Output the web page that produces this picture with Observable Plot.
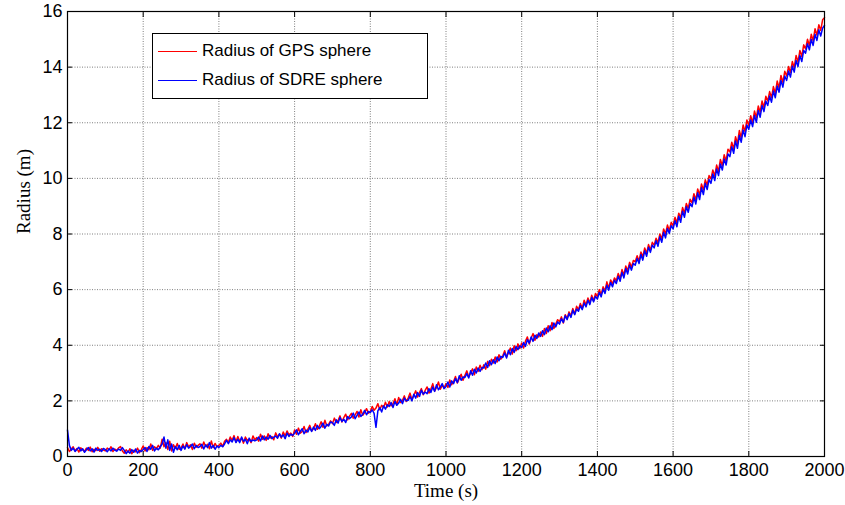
<!DOCTYPE html>
<html>
<head>
<meta charset="utf-8">
<script src="https://cdn.jsdelivr.net/npm/d3@7"></script>
<script src="https://cdn.jsdelivr.net/npm/@observablehq/plot@0.6"></script>
<style>
  html, body { margin: 0; padding: 0; background: #fff; }
  #wrap { position: relative; width: 845px; height: 505px; }
  #legend {
    position: absolute; left: 152px; top: 33px; width: 276px; height: 66px;
    border: 1px solid #000; background: #fff; box-sizing: border-box;
    font-family: "Liberation Sans", Arial, sans-serif; font-size: 17px; color: #000;
  }
  .row { position: absolute; left: 5px; height: 20px; display: flex; align-items: center; }
  .sw { width: 39px; height: 0; border-top: 1px solid; margin-right: 5px; }
</style>
</head>
<body>
<div id="wrap">
  <div id="chart"></div>
  <div id="legend"></div>
</div>
<script>
const timeStep = 5; // seconds between samples
const seriesNames = ["Radius of GPS sphere", "Radius of SDRE sphere"];
const seriesColors = ["#ff0000", "#0000ff"];
const xTicks = [0, 200, 400, 600, 800, 1000, 1200, 1400, 1600, 1800, 2000];
const yTicks = [0, 2, 4, 6, 8, 10, 12, 14, 16];

const gpsRadius = [
  0.32, 0.18, 0.27, 0.35, 0.2, 0.29, 0.16, 0.31, 0.24, 0.19,
  0.3, 0.22, 0.34, 0.17, 0.26, 0.21, 0.33, 0.19, 0.28, 0.23,
  0.2, 0.3, 0.24, 0.35, 0.18, 0.27, 0.22, 0.31, 0.36, 0.2,
  0.12, 0.24, 0.15, 0.28, 0.1, 0.22, 0.17, 0.3, 0.14, 0.25,
  0.38, 0.2, 0.32, 0.24, 0.45, 0.22, 0.35, 0.28, 0.4, 0.3,
  0.62, 0.35, 0.5, 0.25, 0.55, 0.2, 0.42, 0.3, 0.47, 0.26,
  0.3, 0.45, 0.28, 0.5, 0.34, 0.42, 0.25, 0.48, 0.33, 0.4,
  0.46, 0.3, 0.52, 0.36, 0.44, 0.28, 0.56, 0.32, 0.47, 0.35,
  0.4, 0.48, 0.36, 0.55, 0.62, 0.5, 0.7, 0.58, 0.75, 0.52,
  0.72, 0.55, 0.66, 0.48, 0.7, 0.58, 0.62, 0.5, 0.74, 0.6,
  0.68, 0.55, 0.8, 0.62, 0.74, 0.58, 0.82, 0.66, 0.72, 0.6,
  0.85, 0.7, 0.8, 0.66, 0.88, 0.74, 0.92, 0.78, 0.84, 0.72,
  0.95, 0.8, 1.02, 0.84, 0.9, 1.08, 0.86, 0.98, 1.12, 0.92,
  1.0, 1.18, 0.98, 1.08, 1.25, 1.05, 1.3, 1.1, 1.16, 1.28,
  1.18, 1.38, 1.22, 1.3, 1.46, 1.24, 1.4, 1.52, 1.32, 1.45,
  1.55, 1.38, 1.5, 1.62, 1.42, 1.68, 1.48, 1.58, 1.72, 1.56,
  1.62, 1.8, 1.66, 1.74, 1.9, 1.68, 1.84, 1.76, 1.95, 1.78,
  1.98, 1.82, 1.9, 2.08, 1.86, 2.12, 1.94, 2.02, 2.18, 1.98,
  2.1, 2.28, 2.04, 2.2, 2.36, 2.14, 2.3, 2.44, 2.22, 2.38,
  2.5, 2.28, 2.42, 2.62, 2.35, 2.48, 2.68, 2.42, 2.56, 2.46,
  2.62, 2.48, 2.75, 2.58, 2.7, 2.88, 2.64, 2.8, 2.96, 2.74,
  2.92, 3.08, 2.86, 3.0, 3.15, 2.94, 3.22, 3.06, 3.28, 3.12,
  3.3, 3.14, 3.42, 3.26, 3.5, 3.36, 3.58, 3.4, 3.66, 3.5,
  3.62, 3.8, 3.58, 3.72, 3.9, 3.68, 3.98, 3.8, 4.05, 3.88,
  4.08, 3.9, 4.15, 4.3, 4.04, 4.26, 4.42, 4.18, 4.38, 4.3,
  4.48, 4.32, 4.6, 4.42, 4.7, 4.52, 4.82, 4.6, 4.76, 4.92,
  4.85, 5.02, 4.8, 5.1, 4.96, 5.2, 5.05, 5.32, 5.12, 5.4,
  5.28, 5.5, 5.32, 5.62, 5.45, 5.7, 5.52, 5.8, 5.6, 5.86,
  5.75, 6.0, 5.82, 6.1, 5.95, 6.28, 6.05, 6.35, 6.2, 6.42,
  6.32, 6.58, 6.4, 6.72, 6.52, 6.85, 6.68, 6.98, 6.8, 7.05,
  7.0, 7.22, 7.02, 7.35, 7.18, 7.5, 7.3, 7.62, 7.42, 7.7,
  7.6, 7.85, 7.68, 8.0, 7.82, 8.18, 8.0, 8.32, 8.12, 8.42,
  8.3, 8.6, 8.4, 8.75, 8.58, 8.95, 8.75, 9.1, 8.92, 9.25,
  9.12, 9.45, 9.22, 9.62, 9.4, 9.8, 9.58, 9.95, 9.75, 10.1,
  9.98, 10.3, 10.08, 10.48, 10.25, 10.68, 10.45, 10.85, 10.62, 11.05,
  10.95, 11.3, 11.05, 11.5, 11.25, 11.72, 11.45, 11.92, 11.68, 12.1,
  11.9, 12.25, 12.0, 12.42, 12.18, 12.6, 12.38, 12.78, 12.55, 12.95,
  12.78, 13.12, 12.9, 13.3, 13.05, 13.5, 13.25, 13.7, 13.45, 13.85,
  13.68, 14.02, 13.8, 14.2, 13.98, 14.42, 14.18, 14.6, 14.38, 14.8,
  14.65, 15.0, 14.78, 15.18, 14.95, 15.38, 15.15, 15.52, 15.32, 15.7,
  15.78
];

const sdreRadius = [
  0.95, 0.4, 0.22, 0.3, 0.18, 0.26, 0.33, 0.2, 0.28, 0.15,
  0.24, 0.32, 0.2, 0.28, 0.16, 0.3, 0.22, 0.26, 0.18, 0.29,
  0.25, 0.17, 0.28, 0.2, 0.3, 0.23, 0.19, 0.27, 0.22, 0.32,
  0.22, 0.1, 0.2, 0.12, 0.25, 0.15, 0.27, 0.12, 0.22, 0.18,
  0.25, 0.32, 0.18, 0.36, 0.26, 0.4, 0.2, 0.3, 0.24, 0.35,
  0.45, 0.7, 0.3, 0.6, 0.22, 0.45, 0.15, 0.36, 0.24, 0.4,
  0.22, 0.38, 0.27, 0.43, 0.3, 0.36, 0.45, 0.28, 0.4, 0.32,
  0.36, 0.44, 0.27, 0.42, 0.32, 0.5, 0.3, 0.4, 0.26, 0.38,
  0.32, 0.4, 0.35, 0.45, 0.58, 0.46, 0.6, 0.52, 0.68, 0.5,
  0.62, 0.5, 0.7, 0.55, 0.62, 0.46, 0.66, 0.54, 0.6, 0.56,
  0.6, 0.7, 0.56, 0.74, 0.6, 0.7, 0.62, 0.76, 0.64, 0.7,
  0.74, 0.66, 0.82, 0.7, 0.78, 0.64, 0.84, 0.72, 0.8, 0.76,
  0.84, 0.96, 0.78, 0.9, 1.0, 0.82, 0.95, 0.88, 1.04, 0.9,
  1.06, 0.94, 1.12, 1.0, 1.08, 1.2, 1.02, 1.16, 1.1, 1.24,
  1.22, 1.12, 1.32, 1.2, 1.4, 1.26, 1.34, 1.22, 1.44, 1.36,
  1.42, 1.56, 1.36, 1.48, 1.6, 1.44, 1.52, 1.66, 1.5, 1.62,
  1.58, 1.68, 1.55, 1.05, 1.64, 1.76, 1.6, 1.82, 1.7, 1.86,
  1.8, 1.94, 1.76, 1.98, 1.84, 1.92, 2.06, 1.9, 2.1, 2.0,
  2.02, 2.16, 2.0, 2.24, 2.1, 2.3, 2.16, 2.38, 2.24, 2.32,
  2.26, 2.44, 2.3, 2.5, 2.34, 2.58, 2.4, 2.5, 2.62, 2.44,
  2.52, 2.68, 2.5, 2.72, 2.62, 2.8, 2.66, 2.9, 2.74, 2.86,
  2.84, 2.98, 2.82, 3.08, 2.92, 3.14, 3.0, 3.18, 3.06, 3.2,
  3.18, 3.36, 3.2, 3.44, 3.3, 3.48, 3.34, 3.58, 3.44, 3.6,
  3.56, 3.72, 3.54, 3.82, 3.66, 3.88, 3.74, 3.96, 3.84, 3.98,
  3.92, 4.1, 3.96, 4.2, 4.08, 4.3, 4.14, 4.36, 4.24, 4.44,
  4.32, 4.52, 4.38, 4.62, 4.48, 4.7, 4.56, 4.8, 4.66, 4.84,
  4.76, 4.95, 4.82, 5.06, 4.92, 5.14, 5.0, 5.26, 5.1, 5.3,
  5.22, 5.42, 5.28, 5.52, 5.38, 5.62, 5.46, 5.72, 5.56, 5.76,
  5.66, 5.9, 5.74, 6.02, 5.86, 6.16, 5.98, 6.26, 6.1, 6.34,
  6.22, 6.48, 6.3, 6.62, 6.42, 6.76, 6.56, 6.88, 6.7, 6.94,
  6.88, 7.12, 6.94, 7.26, 7.06, 7.4, 7.2, 7.52, 7.34, 7.6,
  7.5, 7.76, 7.56, 7.9, 7.7, 8.06, 7.86, 8.2, 8.02, 8.3,
  8.18, 8.48, 8.26, 8.64, 8.42, 8.82, 8.6, 8.98, 8.78, 9.1,
  8.98, 9.32, 9.08, 9.48, 9.24, 9.66, 9.42, 9.82, 9.6, 9.96,
  9.82, 10.16, 9.92, 10.34, 10.1, 10.52, 10.3, 10.7, 10.48, 10.88,
  10.78, 11.14, 10.9, 11.34, 11.08, 11.54, 11.3, 11.74, 11.5, 11.92,
  11.76, 12.1, 11.86, 12.26, 12.02, 12.44, 12.2, 12.62, 12.4, 12.78,
  12.62, 12.96, 12.74, 13.14, 12.9, 13.32, 13.1, 13.52, 13.28, 13.68,
  13.52, 13.86, 13.64, 14.04, 13.82, 14.24, 14.02, 14.42, 14.2, 14.6,
  14.5, 14.84, 14.62, 15.0, 14.78, 15.18, 14.96, 15.34, 15.12, 15.4,
  15.5
];

const gpsData = gpsRadius.map((r, i) => ({t: i * timeStep, r}));
const sdreData = sdreRadius.map((r, i) => ({t: i * timeStep, r}));

const gridStyle = {stroke: "#7f7f7f", strokeOpacity: 1, strokeWidth: 1, strokeDasharray: "1,1.5"};
const serif = "'Liberation Serif', 'Times New Roman', serif";

const chart = Plot.plot({
  width: 845,
  height: 505,
  marginLeft: 67,
  marginRight: 21,
  marginTop: 11,
  marginBottom: 49,
  style: {fontFamily: "'Liberation Sans', Arial, sans-serif", fontSize: "18px", color: "#000", background: "#fff"},
  x: {domain: [0, 2000]},
  y: {domain: [0, 16]},
  marks: [
    Plot.ruleX(xTicks.slice(1, -1), {...gridStyle}),
    Plot.ruleY(yTicks.slice(1, -1), {...gridStyle}),
    Plot.line(gpsData, {x: "t", y: "r", stroke: seriesColors[0], strokeWidth: 1.5}),
    Plot.line(sdreData, {x: "t", y: "r", stroke: seriesColors[1], strokeWidth: 1.5}),
    Plot.axisX({anchor: "bottom", ticks: xTicks, tickSize: -5, tickPadding: 12, label: null, tickFormat: d => String(d), stroke: "#000", fontSize: 18}),
    Plot.axisX({anchor: "top", ticks: xTicks, tickSize: -5, label: null, tickFormat: () => "", stroke: "#000"}),
    Plot.axisY({anchor: "left", ticks: yTicks, tickSize: -5, tickPadding: 10, label: null, tickFormat: d => String(d), stroke: "#000", fontSize: 18}),
    Plot.axisY({anchor: "right", ticks: yTicks, tickSize: -5, label: null, tickFormat: () => "", stroke: "#000"}),
    Plot.frame({stroke: "#000", strokeWidth: 1.2}),
    Plot.text(["Time (s)"], {frameAnchor: "bottom", dy: 40, fontFamily: serif, fontSize: 19, fill: "#000"}),
    Plot.text(["Radius (m)"], {frameAnchor: "left", dx: -44, rotate: -90, fontFamily: serif, fontSize: 19, fill: "#000"})
  ]
});
document.getElementById("chart").appendChild(chart);

const legend = document.getElementById("legend");
seriesNames.forEach((name, i) => {
  const row = document.createElement("div");
  row.className = "row";
  row.style.top = (i === 0 ? 7 : 36) + "px";
  const sw = document.createElement("div");
  sw.className = "sw";
  sw.style.borderTopColor = seriesColors[i];
  const label = document.createElement("span");
  label.textContent = name;
  row.appendChild(sw);
  row.appendChild(label);
  legend.appendChild(row);
});
</script>
</body>
</html>
